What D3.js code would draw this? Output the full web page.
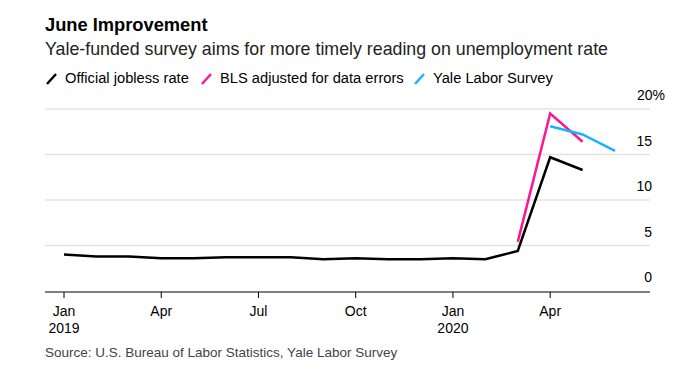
<!DOCTYPE html>
<html>
<head>
<meta charset="utf-8">
<script src="https://cdn.jsdelivr.net/npm/d3@7"></script>
<style>
  body { margin: 0; background: #fff; }
  text { font-family: "Liberation Sans", Arial, sans-serif; }
</style>
</head>
<body>
<div id="chart"></div>
<script>
// monthly data, Jan 2019 .. Jun 2020
var officialMonths = ["2019-01","2019-02","2019-03","2019-04","2019-05","2019-06","2019-07","2019-08","2019-09","2019-10","2019-11","2019-12","2020-01","2020-02","2020-03","2020-04","2020-05"]
var officialRate = [4.0,3.8,3.8,3.6,3.6,3.7,3.7,3.7,3.5,3.6,3.5,3.5,3.6,3.5,4.4,14.7,13.3]
var blsMonths = ["2020-03","2020-04","2020-05"]
var blsRate = [5.4,19.5,16.4]
var yaleMonths = ["2020-04","2020-05","2020-06"]
var yaleRate = [18.1,17.2,15.4]
var yTicks = [0,5,10,15,20]
var xTicks = ["2019-01","2019-04","2019-07","2019-10","2020-01","2020-04"]

var width = 698, height = 366

// months since Jan 2019, so every month gets the same width
function monthIndex(s){
  return (+s.slice(0, 4) - 2019) * 12 + (+s.slice(5) - 1)
}
var monthNames = ["Jan","Feb","Mar","Apr","May","Jun","Jul","Aug","Sep","Oct","Nov","Dec"]

var svg = d3.select("#chart").append("svg")
  .attr("width", width)
  .attr("height", height)

// scales
var x = d3.scaleLinear()
  .domain([0, 17])
  .range([64, 615])
var y = d3.scaleLinear()
  .domain([0, 20])
  .range([291, 109])

// titles
svg.append("text").attr("x", 45).attr("y", 31).text("June Improvement")
  .style("font-size", "18.3px").style("font-weight", "bold").attr("fill", "#000")
svg.append("text").attr("x", 45).attr("y", 55).text("Yale-funded survey aims for more timely reading on unemployment rate")
  .style("font-size", "17.8px").attr("fill", "#222")

// legend
var legend = [
  {label: "Official jobless rate", color: "#000000", x: 46},
  {label: "BLS adjusted for data errors", color: "#ff1493", x: 201},
  {label: "Yale Labor Survey", color: "#1ab2ff", x: 414}
]
legend.forEach(function(l){
  svg.append("line").attr("x1", l.x + 1).attr("y1", 84).attr("x2", l.x + 10).attr("y2", 74)
    .attr("stroke", l.color).attr("stroke-width", 2.5)
  svg.append("text").attr("x", l.x + 19).attr("y", 83).text(l.label)
    .style("font-size", "14.7px").attr("fill", "#000")
})

// gridlines
svg.selectAll(".grid").data(yTicks.filter(function(d){ return d > 0 }))
  .enter().append("line")
  .attr("x1", 45).attr("x2", 650)
  .attr("y1", function(d){ return y(d) }).attr("y2", function(d){ return y(d) })
  .attr("stroke", "#e3e3e3").attr("stroke-width", 1.5)

// y labels, sit above the gridlines
svg.selectAll(".ylab").data(yTicks)
  .enter().append("text")
  .attr("x", function(d){ return d == 20 ? 665 : 652 })
  .attr("y", function(d){ return y(d) - 9 })
  .attr("text-anchor", "end")
  .style("font-size", "14px")
  .attr("fill", "#000")
  .text(function(d){ return d == 20 ? "20%" : d })

// x axis
svg.append("line").attr("x1", 45).attr("x2", 650).attr("y1", 292).attr("y2", 292)
  .attr("stroke", "#000").attr("stroke-width", 1)
var xg = svg.selectAll(".xt").data(xTicks).enter().append("g")
  .attr("transform", function(d){ return "translate(" + x(monthIndex(d)) + ",292)" })
xg.append("line").attr("y1", 0).attr("y2", 6).attr("stroke", "#000")
xg.append("text").attr("y", 24).attr("text-anchor", "middle")
  .style("font-size", "14px").attr("fill", "#000")
  .text(function(d){ return monthNames[+d.slice(5) - 1] })
xg.append("text").attr("y", 41).attr("text-anchor", "middle")
  .style("font-size", "14px").attr("fill", "#000")
  .text(function(d){ return d.slice(5) == "01" ? d.slice(0, 4) : "" })

// lines
var line = d3.line()
  .x(function(d){ return x(monthIndex(d[0])) })
  .y(function(d){ return y(d[1]) })

function drawSeries(months, vals, color){
  svg.append("path")
    .datum(d3.zip(months, vals))
    .attr("d", line)
    .attr("fill", "none")
    .attr("stroke", color)
    .attr("stroke-width", 2.5)
}
drawSeries(officialMonths, officialRate, "#000000")
drawSeries(blsMonths, blsRate, "#ff1493")
drawSeries(yaleMonths, yaleRate, "#1ab2ff")

// source
svg.append("text").attr("x", 45).attr("y", 357)
  .text("Source: U.S. Bureau of Labor Statistics, Yale Labor Survey")
  .style("font-size", "13.5px").attr("fill", "#444")
</script>
</body>
</html>
